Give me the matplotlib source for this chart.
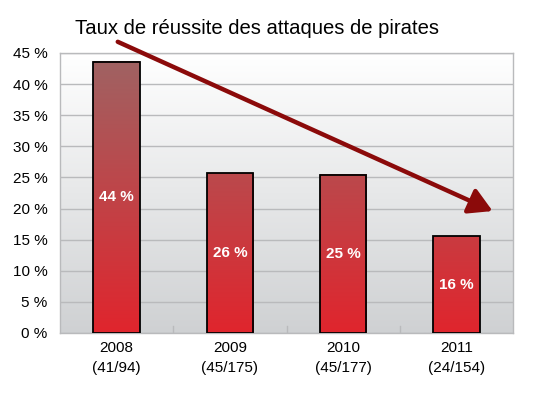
import numpy as np
import matplotlib.pyplot as plt
from matplotlib.colors import LinearSegmentedColormap

plt.rcParams['font.family'] = ['Liberation Sans', 'DejaVu Sans']

# Data
years = ["2008", "2009", "2010", "2011"]
counts = ["(41/94)", "(45/175)", "(45/177)", "(24/154)"]
success = [41, 45, 45, 24]
attacks = [94, 175, 177, 154]
rates = [100 * s / a for s, a in zip(success, attacks)]
bar_labels = ["44 %", "26 %", "25 %", "16 %"]
yticks = [0, 5, 10, 15, 20, 25, 30, 35, 40, 45]

fig = plt.figure(figsize=(5.35, 3.94), dpi=100)
ax = fig.add_axes([60 / 535, 1 - 333 / 394, 453 / 535, 280 / 394])

x = np.arange(len(years))
ax.set_xlim(-0.5, len(years) - 0.5)
ax.set_ylim(0, 45)

# Background gradient (white top -> grey bottom)
bg = LinearSegmentedColormap.from_list("bg", ["#cfd1d3", "#ffffff"])
grad = np.linspace(0, 1, 256).reshape(-1, 1)
ax.imshow(grad, cmap=bg, aspect="auto", origin="lower",
          extent=(-0.5, len(years) - 0.5, 0, 45), zorder=0)

# Gridlines
for t in yticks:
    ax.axhline(t, color="#b9babc", linewidth=1, zorder=1)

# Small tick marks at the category boundaries
for b in np.arange(0.5, len(years) - 0.5, 1):
    ax.plot([b, b], [0, 1.2], color="#b9babc", linewidth=1, zorder=1)

# Bars with vertical gradient
barcm = LinearSegmentedColormap.from_list("bar", ["#e0252d", "#9e6464"])
bars = ax.bar(x, rates, width=0.41, facecolor="none", edgecolor="black",
              linewidth=1.3, zorder=3)
for bar, lab in zip(bars, bar_labels):
    x0, y0 = bar.get_x(), bar.get_y()
    w, h = bar.get_width(), bar.get_height()
    g = np.linspace(0, h / 45, 256).reshape(-1, 1)
    ax.imshow(g, cmap=barcm, vmin=0, vmax=1, aspect="auto", origin="lower",
              extent=(x0, x0 + w, y0, y0 + h), zorder=2)
    ax.text(x0 + w / 2, h / 2, lab, color="white", fontsize=11,
            fontweight="bold", ha="center", va="center", zorder=4)

ax.set_xlim(-0.5, len(years) - 0.5)
ax.set_ylim(0, 45)

# Axis styling
for s in ax.spines.values():
    s.set_color("#b9babc")
    s.set_linewidth(1)
ax.set_yticks(yticks)
ax.set_yticklabels([f"{t} %" for t in yticks], fontsize=11)
ax.set_xticks(x)
ax.set_xticklabels([f"{y}\n{c}" for y, c in zip(years, counts)], fontsize=11,
                   linespacing=1.5)
ax.tick_params(length=0, pad=9)
ax.tick_params(axis="x", pad=6)

# Trend arrow
ax.annotate("", xy=(3.32, 19.6), xytext=(0.01, 46.8),
            arrowprops=dict(arrowstyle="-|>,head_length=1.4,head_width=0.8",
                            color="#8b0a0a", lw=3.2, shrinkA=0, shrinkB=0),
            annotation_clip=False, zorder=5)

fig.text(75 / 535, 1 - 28 / 394, "Taux de réussite des attaques de pirates",
         fontsize=14.6, ha="left", va="center")

fig.savefig("out.png", dpi=100)
